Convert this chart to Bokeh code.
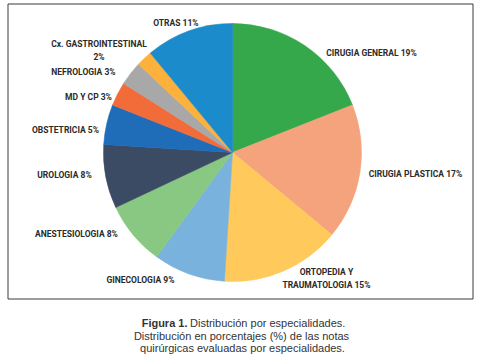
import math
from bokeh.plotting import figure
from bokeh.models import ColumnDataSource, Range1d
from bokeh.core.properties import value
from bokeh.embed import file_html
from bokeh.resources import INLINE

# ---- data ----
categories = ["CIRUGIA  GENERAL", "CIRUGIA  PLASTICA", "ORTOPEDIA  Y\nTRAUMATOLOGIA", "GINECOLOGIA",
              "ANESTESIOLOGIA", "UROLOGIA", "OBSTETRICIA", "MD Y CP", "NEFROLOGIA",
              "Cx. GASTROINTESTINAL\n", "OTRAS"]
percent = [19, 17, 15, 9, 8, 8, 5, 3, 3, 2, 11]
colors = ["#36a84c", "#f5a37c", "#ffc95b", "#79b2dc", "#89c883", "#3c4b64",
          "#1f6cb8", "#f26c3a", "#a8a8a8", "#fbb13c", "#1c8bcb"]

# ---- layout (page pixel coordinates of the reference) ----
CX, CY, R = 232, 152, 129
label_pos = [(372, 52), (416, 173), (327, 277.5), (141, 279), (77, 233), (65, 174),
             (66, 129), (88, 96), (84, 71), (98.5, 49.5), (176.5, 22)]

total = float(sum(percent))
starts, ends = [], []
acc = 0.0
for v in percent:
    a0 = math.pi / 2 - 2 * math.pi * acc / total
    acc += v
    a1 = math.pi / 2 - 2 * math.pi * acc / total
    starts.append(a1)
    ends.append(a0)

def lab(c, v):
    if c.endswith("\n"):
        return c + "%d%%" % v
    if c in ("CIRUGIA  GENERAL", "CIRUGIA  PLASTICA", "MD Y CP"):
        return c + " %d%%" % v
    return c + "  %d%%" % v

labels = [lab(c, v) for c, v in zip(categories, percent)]

W, H = 480, 358
p = figure(width=W, height=H, output_backend="svg", toolbar_location=None,
           x_range=Range1d(0, W), y_range=Range1d(-H, 0),
           min_border=0, outline_line_color=None)
p.axis.visible = False
p.grid.visible = False
p.background_fill_color = "white"
p.border_fill_color = "white"

# frame box
p.quad(left=[7.5], right=[472.5], top=[-3.5], bottom=[-298.5],
       fill_color=None, line_color="#3a3a3a", line_width=1)

src = ColumnDataSource(dict(start=starts, end=ends, color=colors))
p.wedge(x=CX, y=-CY, radius=R, start_angle="start", end_angle="end",
        direction="anticlock", fill_color="color", line_color="color",
        line_width=0.6, source=src)

lsrc = ColumnDataSource(dict(x=[q[0] for q in label_pos], y=[-q[1] for q in label_pos], text=labels))
p.text(x="x", y="y", text="text", source=lsrc, text_align="center", text_baseline="middle",
       text_font=value("Roboto"), text_font_style="bold",
       text_font_size="8.5px", text_color="#2a2a2a", text_line_height=1.3)

# caption
cap_font = value("Liberation Sans")
p.text(x=[187], y=[-322], text=["Figura 1."], text_align="right", text_baseline="middle",
       text_font=cap_font, text_font_style="bold", text_font_size="11px", text_color="#333333")
p.text(x=[189.5], y=[-322], text=["Distribución por especialidades."], text_align="left",
       text_baseline="middle", text_font=cap_font, text_font_size="11px", text_color="#333333")
p.text(x=[241, 242], y=[-335, -347],
       text=["Distribución en porcentajes (%) de las notas",
             "quirúrgicas evaluadas por especialidades."],
       text_align="center", text_baseline="middle", text_font=cap_font,
       text_font_size="11px", text_color="#333333")

open("out.html", "w").write(file_html(p, INLINE))
